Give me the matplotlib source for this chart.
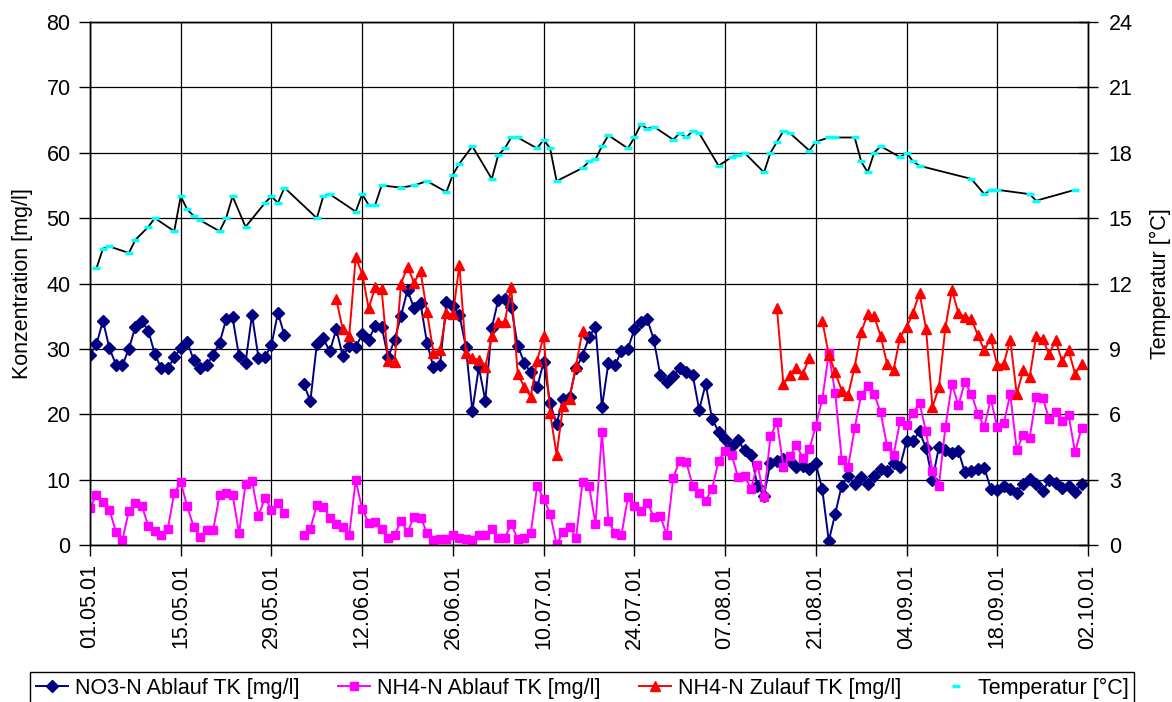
import datetime as dt
import matplotlib
matplotlib.use("Agg")
import matplotlib.pyplot as plt
import matplotlib.dates as mdates
import numpy as np

plt.rcParams["font.family"] = ["Liberation Sans", "DejaVu Sans"]
plt.rcParams["font.size"] = 15.5

START = dt.date(2001, 5, 1)
N_DAYS = 154

# ---- data (one value per day from 01.05.01, None = no value) ----
NO3 = [29.1, 30.7, 34.3, 30.1, 27.6, 27.5, 30.0, 33.4, 34.2, 32.8,
       29.2, 27.0, 27.0, 28.7, 30.1, 31.1, 28.3, 27.0, 27.5, 29.1,
       30.9, 34.5, 34.8, 28.9, 27.9, 35.2, 28.6, 28.7, 30.6, 35.5,
       32.1, None, None, 24.6, 22.0, 30.7, 31.6, 29.6, 33.0, 28.9,
       30.4, 30.3, 32.2, 31.4, 33.5, 33.4, 28.7, 31.4, 35.1, 39.0,
       36.2, 37.0, 30.9, 27.2, 27.5, 37.1, 36.6, 35.2, 30.3, 20.5,
       27.2, 22.1, 33.2, 37.5, 37.7, 36.4, 30.5, 27.9, 26.4, 24.1,
       28.0, 21.7, 18.5, 22.4, 22.7, 27.1, 28.9, 31.8, 33.4, 21.1,
       27.9, 27.5, 29.6, 30.0, 33.0, 34.1, 34.5, 31.4, 26.0, 24.9,
       25.9, 27.0, 26.4, 26.0, 20.7, 24.6, 19.3, 17.3, 16.2, 15.1,
       16.0, 14.5, 13.8, 9.1, 7.5, 12.6, 12.8, 13.1, 12.8, 12.0,
       12.1, 11.6, 12.5, 8.5, 0.6, 4.8, 9.1, 10.5, 9.3, 10.4,
       9.4, 10.6, 11.7, 11.3, 12.6, 12.0, 15.9, 15.9, 17.4, 14.8,
       10.0, 15.0, 14.6, 14.1, 14.4, 11.1, 11.3, 11.6, 11.8, 8.6,
       8.4, 9.1, 8.6, 8.0, 9.4, 10.1, 9.4, 8.2, 9.9, 9.5,
       8.7, 9.1, 8.1, 9.4]

NH4_AB = [5.7, 7.6, 6.6, 5.4, 2.0, 0.8, 5.2, 6.5, 6.0, 2.9,
          2.2, 1.6, 2.4, 8.0, 9.6, 5.9, 2.8, 1.2, 2.3, 2.3,
          7.6, 8.0, 7.7, 1.8, 9.3, 9.8, 4.5, 7.2, 5.4, 6.4,
          4.9, None, None, 1.6, 2.5, 6.1, 5.8, 4.2, 3.2, 2.8,
          1.6, 9.9, 5.5, 3.4, 3.5, 2.5, 1.0, 1.5, 3.7, 2.0,
          4.3, 4.2, 1.9, 0.8, 0.9, 0.9, 1.5, 1.0, 0.9, 0.8,
          1.5, 1.5, 2.4, 1.1, 1.1, 3.2, 0.9, 1.1, 1.8, 9.0,
          7.1, 4.8, 0.1, 2.0, 2.8, 1.1, 9.6, 9.1, 3.2, 17.3,
          3.6, 1.9, 1.5, 7.3, 5.9, 5.2, 6.5, 4.3, 4.5, 1.5,
          10.3, 12.9, 12.7, 9.1, 7.9, 6.8, 8.6, 12.9, 14.4, 13.8,
          10.4, 10.6, 8.6, 12.3, 7.4, 16.6, 18.8, 12.0, 13.6, 15.3,
          13.3, 14.7, 18.2, 22.3, 29.3, 23.2, 13.0, 12.0, 17.9, 23.0,
          24.3, 23.1, 20.3, 15.1, 13.8, 18.9, 18.4, 20.2, 21.7, 17.4,
          11.3, 9.1, 18.1, 24.6, 21.4, 24.9, 23.1, 20.1, 18.1, 22.3,
          18.1, 18.6, 23.1, 14.6, 16.8, 16.4, 22.6, 22.5, 19.3, 20.3,
          19.0, 19.9, 14.2, 17.9]

NH4_ZU = [None] * 38 + [
          37.6, 33.0, 32.0, 44.0, 41.5, 36.2, 39.4, 39.1, 28.2, 28.0,
          40.0, 42.6, 40.1, 41.9, 35.7, 29.4, 29.8, 35.5, 35.3, 42.8,
          29.4, 28.6, 28.3, 27.3, 31.9, 34.1, 34.1, 39.4, 26.2, 24.2,
          22.7, 28.2, 31.9, 20.2, 13.8, 21.3, 22.4, 27.4, 32.8] + [None] * 29 + [
          36.2, 24.6, 26.0, 27.1, 26.2, 28.6, None, 34.3, 29.1, 26.4,
          23.6, 23.0, 27.3, 32.6, 35.3, 35.0, 32.0, 27.7, 26.8, 31.8,
          33.3, 35.5, 38.6, 33.1, 21.1, 24.1, 33.3, 39.0, 35.5, 34.9,
          34.6, 32.1, 29.8, 31.6, 27.5, 27.7, 31.4, 23.1, 26.7, 25.7,
          31.9, 31.5, 29.2, 31.3, 28.1, 29.8, 26.2, 27.7]

TEMP_DAYS = [1, 2, 3, 6, 7, 9, 10, 13, 14, 15, 16, 17, 20, 21, 22, 24, 27, 28, 29, 30,
             35, 36, 37, 41, 42, 43, 44, 45, 48, 50, 52, 55, 56, 57, 59, 62, 63, 64, 65, 66,
             69, 70, 71, 72, 76, 77, 78, 79, 80, 83, 84, 85, 86, 87, 90, 91, 92, 93, 94, 97,
             99, 100, 101, 104, 105, 106, 107, 108, 111, 112, 114, 115, 118, 119, 120, 121,
             122, 125, 126, 127, 128, 136, 138, 139, 140, 145, 146, 152]
TEMP = [12.7, 13.6, 13.7, 13.4, 14.0, 14.6, 15.0, 14.4, 16.0, 15.4, 15.1, 14.9, 14.4, 15.0,
        16.0, 14.6, 15.7, 16.0, 15.7, 16.4, 15.0, 16.0, 16.1, 15.3, 16.1, 15.6, 15.6, 16.5,
        16.4, 16.5, 16.7, 16.2, 17.0, 17.5, 18.3, 16.8, 17.9, 18.2, 18.7, 18.7, 18.2, 18.6,
        18.2, 16.7, 17.3, 17.6, 17.7, 18.3, 18.8, 18.2, 18.7, 19.3, 19.1, 19.2, 18.6, 18.9,
        18.7, 19.0, 18.9, 17.4, 17.8, 17.9, 18.0, 17.1, 18.0, 18.5, 19.0, 18.9, 18.1, 18.5,
        18.7, 18.7, 18.7, 17.6, 17.1, 18.0, 18.3, 17.8, 18.0, 17.6, 17.4, 16.8, 16.1, 16.3,
        16.3, 16.1, 15.8, 16.3]

LABELS = ["NO3-N Ablauf TK [mg/l]", "NH4-N Ablauf TK [mg/l]",
          "NH4-N Zulauf TK [mg/l]", "Temperatur [°C]"]


def as_arr(vals):
    v = [np.nan if x is None else x for x in vals]
    v = v + [np.nan] * (N_DAYS - len(v))
    return np.array(v[:N_DAYS], dtype=float)


x0 = mdates.date2num(START)
xd = x0 + np.arange(N_DAYS)
xt = x0 + np.array(TEMP_DAYS)

fig = plt.figure(figsize=(11.72, 7.02), dpi=100)
ax = fig.add_axes([90 / 1172, 1 - 545 / 702, 998 / 1172, 523 / 702])
ax2 = ax.twinx()

l1, = ax.plot(xd, as_arr(NO3), color="#000080", lw=1.4, marker="D", ms=6, label=LABELS[0])
l2, = ax.plot(xd, as_arr(NH4_AB), color="#FF00FF", lw=1.4, marker="s", ms=6, label=LABELS[1])
l3, = ax.plot(xd, as_arr(NH4_ZU), color="#FF0000", lw=1.4, marker="^", ms=7.5, label=LABELS[2])

ax2.plot(xt, TEMP, color="black", lw=1.3, zorder=2)
l4, = ax2.plot(xt, TEMP, ls="none", marker="_", ms=6, mew=2.5, color="#00FFFF",
               label=LABELS[3], zorder=3)

ax.set_xlim(x0, x0 + N_DAYS)
ax.set_ylim(0, 80)
ax2.set_ylim(0, 24)
ax.set_yticks(range(0, 81, 10))
ax2.set_yticks(range(0, 25, 3))
ax.set_xticks(x0 + np.arange(0, N_DAYS + 1, 14))
ax.xaxis.set_major_formatter(mdates.DateFormatter("%d.%m.%y"))
plt.setp(ax.get_xticklabels(), rotation=90)

ax.grid(True, color="black", lw=0.9)
ax.tick_params(axis="x", direction="out", length=8, width=1, pad=6)
ax.tick_params(axis="y", direction="out", length=8, width=1, pad=6)
ax2.tick_params(axis="y", direction="inout", length=14, width=1, pad=8)
for s in list(ax.spines.values()) + list(ax2.spines.values()):
    s.set_linewidth(1)
    s.set_color("black")

ax.set_ylabel("Konzentration [mg/l]", labelpad=10)
ax2.set_ylabel("Temperatur [°C]", labelpad=12)

leg = fig.legend(handles=[l1, l2, l3, l4], loc="upper center", ncol=4,
                 bbox_to_anchor=(0.497, 1 - 672 / 702), frameon=True, fancybox=False,
                 edgecolor="black", framealpha=1, handlelength=1.5, handletextpad=0.3,
                 columnspacing=1.8, borderpad=0.25, borderaxespad=0)
leg.get_frame().set_linewidth(1)

fig.savefig("out.png", dpi=100, facecolor="white")
